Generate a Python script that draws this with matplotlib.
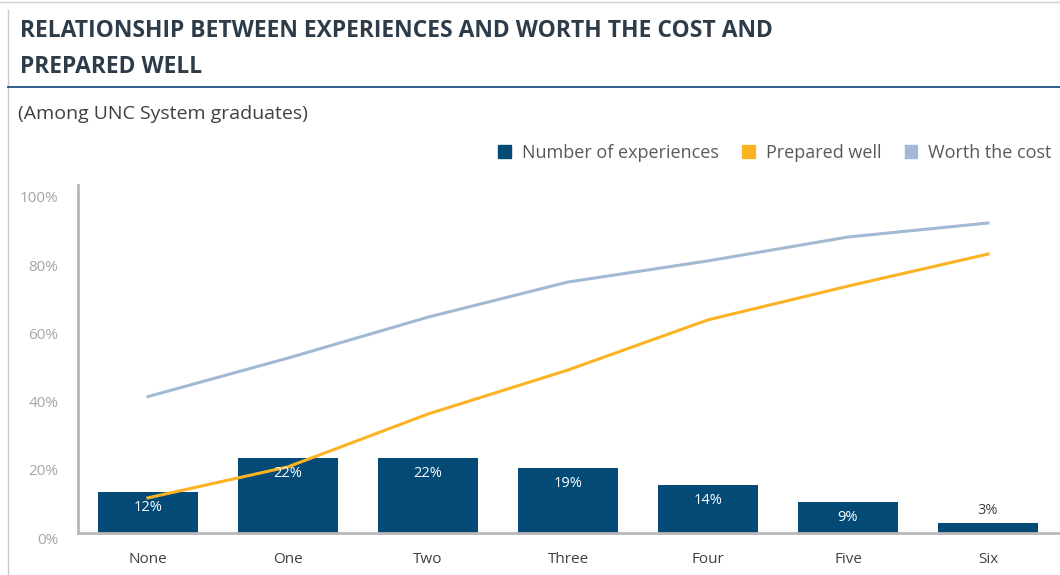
import matplotlib
matplotlib.use('Agg')
import matplotlib.pyplot as plt
import matplotlib.transforms as mtransforms
from matplotlib.lines import Line2D
from matplotlib.patches import Patch

categories = ['None', 'One', 'Two', 'Three', 'Four', 'Five', 'Six']
experiences = [12, 22, 22, 19, 14, 9, 3]
prepared_well = [10.3, 19.4, 34.9, 47.8, 62.5, 72.4, 81.8]
worth_cost = [40.0, 51.3, 63.3, 73.6, 79.8, 86.8, 90.9]
y_ticks = [0, 20, 40, 60, 80, 100]

BAR_COLOR = '#034a77'
PREP_COLOR = '#fbb324'
WORTH_COLOR = '#a2b9d4'
TEXT_DARK = '#2e3c4a'

plt.rcParams['font.family'] = ['Open Sans', 'DejaVu Sans']

fig = plt.figure(figsize=(10.6, 5.75), dpi=100)

# рамка и заголовок
fig.add_artist(Line2D([8/1060, 8/1060], [0, 1 - 10/575], color='#c8c8c8', lw=1))
fig.add_artist(Line2D([0, 1], [1 - 2/575, 1 - 2/575], color='#d0d0d0', lw=1))
fig.text(20/1060, 1 - 31/575, 'RELATIONSHIP BETWEEN EXPERIENCES AND WORTH THE COST AND',
         fontsize=16.5, fontweight='bold', color=TEXT_DARK, va='center', ha='left')
fig.text(20/1060, 1 - 67/575, 'PREPARED WELL',
         fontsize=16.5, fontweight='bold', color=TEXT_DARK, va='center', ha='left')
fig.add_artist(Line2D([8/1060, 1], [1 - 87/575, 1 - 87/575], color='#1f5080', lw=1.3))
fig.text(18/1060, 1 - 114/575, '(Among UNC System graduates)',
         fontsize=14, color='#404040', va='center', ha='left')

ax = fig.add_axes([78/1060, 1 - 533/575, 980/1060, (533 - 192)/575])
x = list(range(len(categories)))

bars = ax.bar(x, experiences, width=0.71, color=BAR_COLOR, zorder=2)
ax.plot(x, worth_cost, color=WORTH_COLOR, lw=2.2, zorder=3)
ax.plot(x, prepared_well, color=PREP_COLOR, lw=2.2, zorder=3)

for xi, v in zip(x, experiences):
    if v >= 5:
        ax.text(xi, v - 4.5, f'{v}%', ha='center', va='center', color='white', fontsize=10.5, zorder=4)
    else:
        ax.text(xi, v + 3.5, f'{v}%', ha='center', va='center', color='#404040', fontsize=10.5, zorder=4)

ax.set_xlim(-0.5, 6.5)
ax.set_ylim(0, 100)
ax.set_yticks(y_ticks)
ax.set_yticklabels([f'{t}%' for t in y_ticks])
ax.set_xticks(x)
ax.set_xticklabels(categories)
ax.tick_params(axis='y', length=0, labelsize=11, labelcolor='#a6a6a6', pad=14)
ax.tick_params(axis='x', length=0, labelsize=11, labelcolor='#404040', pad=14)
# подписи оси Y чуть ниже линий, как в оригинале
shift = mtransforms.ScaledTranslation(0, -5/100, fig.dpi_scale_trans)
for lab in ax.get_yticklabels():
    lab.set_transform(lab.get_transform() + shift)
for s in ['top', 'right']:
    ax.spines[s].set_visible(False)
ax.spines['left'].set_color('#b8b8b8')
ax.spines['left'].set_linewidth(2)
ax.spines['left'].set_bounds(0, 102)
ax.spines['bottom'].set_color('#b8b8b8')
ax.spines['bottom'].set_linewidth(2)

handles = [Patch(color=BAR_COLOR), Patch(color=PREP_COLOR), Patch(color=WORTH_COLOR)]
labels = ['Number of experiences', 'Prepared well', 'Worth the cost']
fig.legend(handles, labels, loc='center left', bbox_to_anchor=(482/1060, 1 - 153/575),
           ncol=3, frameon=False, fontsize=13, handlelength=0.7, handleheight=0.7,
           handletextpad=0.6, columnspacing=1.3, labelcolor='#595959')

fig.savefig('out.png', dpi=100)
